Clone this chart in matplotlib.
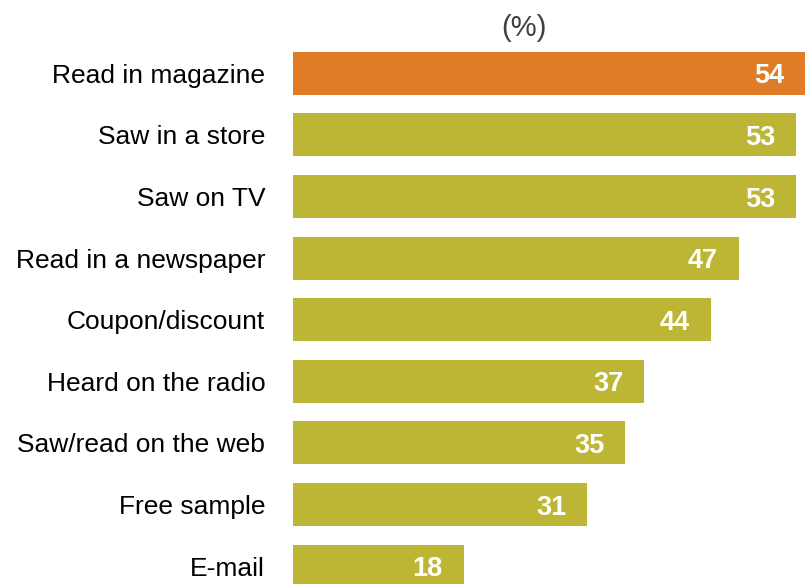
import matplotlib
matplotlib.use("Agg")
import matplotlib.pyplot as plt

plt.rcParams['font.family'] = ['Liberation Sans', 'DejaVu Sans']

categories = ["Read in magazine", "Saw in a store", "Saw on TV", "Read in a newspaper",
              "Coupon/discount", "Heard on the radio", "Saw/read on the web",
              "Free sample", "E-mail"]
values = [54, 53, 53, 47, 44, 37, 35, 31, 18]
highlight = "Read in magazine"

orange = "#E07B27"
olive = "#BDB634"

fig = plt.figure(figsize=(8.07, 5.84), dpi=100)
ax = fig.add_axes([293 / 807, 0, 514 / 807, 1])

pos = list(range(len(categories)))
colors = [orange if c == highlight else olive for c in categories]
ax.barh(pos, values, height=0.70, color=colors)

# value labels sit inside the bar end
for y, v in zip(pos, values):
    ax.annotate(str(v), xy=(v, y), xytext=(-21, 0), textcoords='offset pixels',
                ha='right', va='center_baseline', color='white', fontsize=19.5,
                fontweight='bold')

ax.set_xlim(0, 54.16)
ax.set_ylim(8.29, -1.19)
ax.set_yticks(pos)
ax.set_yticklabels(categories, fontsize=19)
ax.tick_params(axis='y', length=0, pad=20)
ax.set_xticks([])
for s in ax.spines.values():
    s.set_visible(False)

ax.text(0.45, 1 - 28 / 584, "(%)", transform=ax.transAxes, ha='center', va='center',
        fontsize=21, color='#404040')

fig.savefig("out.png", dpi=100)
